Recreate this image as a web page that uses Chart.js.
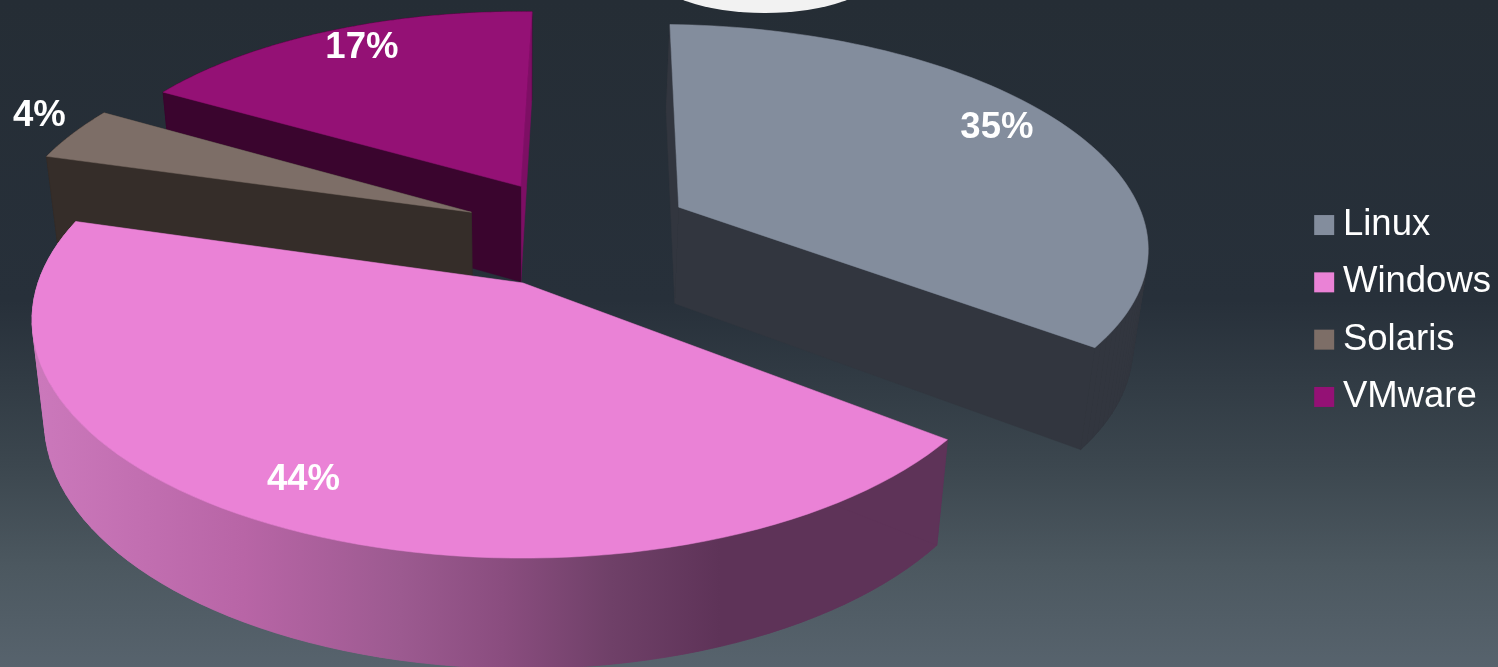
<!DOCTYPE html>
<html>
<head>
<meta charset="utf-8">
<script src="https://cdn.jsdelivr.net/npm/chart.js@4"></script>
<style>
  html, body { margin: 0; padding: 0; width: 1498px; height: 667px; overflow: hidden; }
  body { position: relative; background: linear-gradient(#252d35 0%, #27303a 45%, #3c474f 70%, #4c5860 85%, #57636d 100%); }
  #lamp { position: absolute; left: 654px; top: -67px; width: 222px; height: 80px; border-radius: 50%; background: #f2f2f2; }
  #chart { position: absolute; left: 0; top: 0; }
</style>
</head>
<body>
<div id="lamp"></div>
<canvas id="chart" width="1498" height="667"></canvas>
<script>
const categories = ['Linux', 'Windows', 'Solaris', 'VMware'];
const shares = [35, 44, 4, 17];
const faceColors = ['#838d9d', '#ea82d6', '#7d6e67', '#941175'];
const wallColors = ['#32363f', '#5e3358', '#352d29', '#3a052e'];
const endWallColors = ['#32363f', '#5e3358', '#352d29', '#7d0f64'];
const labelRadius = [0.85, 0.848, 1.124, 0.85];
const labelTurn = [-2.5, 1.36, 2.73, 1.75];
const nudgeU = [-0.014, 0, 0.01, 0.004];
const nudgeV = [0, 0, 0.015, 0.015];
const rimScale = [1, 1, 1, 0.98];

// tilted disc, origin is the tip of the front slice
const view = { x: 523, y: 283, rx: 485, ry: 232.5, persp: 0.155, explode: 0.26 };
const drawOrder = [3, 2, 0, 1];

function project(u, v) {
  const w = 1 - view.persp * v;
  return { x: view.x + view.rx * u / w, y: view.y + view.ry * v / w };
}

// same point on the bottom of the disc
function lower(p) {
  return { x: view.x + (p.x - view.x) * 0.975, y: p.y + 88 + p.y * 0.04 };
}

function fillPoly(ctx, pts, style) {
  ctx.beginPath();
  pts.forEach((p, i) => i ? ctx.lineTo(p.x, p.y) : ctx.moveTo(p.x, p.y));
  ctx.closePath();
  ctx.fillStyle = style;
  ctx.strokeStyle = style;
  ctx.lineWidth = 0.5;
  ctx.fill();
  ctx.stroke();
}

const pie3d = {
  id: 'pie3d',
  beforeDatasetsDraw(chart) {
    const ctx = chart.ctx;
    const arcs = chart.getDatasetMeta(0).data;
    const front = (arcs[1].startAngle + arcs[1].endAngle) / 2;
    const ou = view.explode * Math.cos(front);
    const ov = view.explode * Math.sin(front);

    const sideFill = ctx.createLinearGradient(40, 0, 720, 0);
    sideFill.addColorStop(0, '#cb78bb');
    sideFill.addColorStop(0.3, '#b865a6');
    sideFill.addColorStop(0.53, '#9c5a90');
    sideFill.addColorStop(0.68, '#8a4d7f');
    sideFill.addColorStop(0.84, '#6f4068');
    sideFill.addColorStop(1, '#5e3358');

    const shapes = arcs.map((arc, n) => {
      const mid = (arc.startAngle + arc.endAngle) / 2;
      const cu = view.explode * Math.cos(mid) - ou + nudgeU[n];
      const cv = view.explode * Math.sin(mid) - ov + nudgeV[n];
      const rim = [];
      const steps = 80;
      for (let i = 0; i <= steps; i++) {
        const a = arc.startAngle + (arc.endAngle - arc.startAngle) * i / steps;
        rim.push(project(cu + rimScale[n] * Math.cos(a), cv + rimScale[n] * Math.sin(a)));
      }
      return { tip: project(cu, cv), rim, cu, cv, mid };
    });

    drawOrder.forEach((i) => {
      const s = shapes[i];
      const first = s.rim[0];
      const last = s.rim[s.rim.length - 1];
      const outer = i === 1 ? sideFill : wallColors[i];
      // the base hides the seams, the quads sweep out the silhouette
      fillPoly(ctx, s.rim.concat(s.rim.map(lower).reverse()), outer);
      for (let k = 0; k < s.rim.length - 1; k++) {
        fillPoly(ctx, [s.rim[k], s.rim[k + 1], lower(s.rim[k + 1]), lower(s.rim[k])], outer);
      }
      fillPoly(ctx, [s.tip, last, lower(last), lower(s.tip)], endWallColors[i]);
      fillPoly(ctx, [s.tip, first, lower(first), lower(s.tip)], wallColors[i]);
      fillPoly(ctx, [s.tip].concat(s.rim), faceColors[i]);
    });

    ctx.font = 'bold 36.5px "Liberation Sans"';
    ctx.fillStyle = '#ffffff';
    ctx.textAlign = 'center';
    ctx.textBaseline = 'middle';
    shapes.forEach((s, i) => {
      const a = s.mid + labelTurn[i] * Math.PI / 180;
      const p = project(s.cu + labelRadius[i] * Math.cos(a), s.cv + labelRadius[i] * Math.sin(a));
      ctx.fillText(shares[i] + '%', p.x, p.y);
    });
    return false;
  }
};

new Chart(document.getElementById('chart'), {
  type: 'pie',
  data: {
    labels: categories,
    datasets: [{ data: shares, backgroundColor: faceColors, borderWidth: 0 }]
  },
  options: {
    responsive: false,
    animation: false,
    rotation: 1.6,
    layout: { padding: { right: -3, bottom: 45 } },
    plugins: {
      tooltip: { enabled: false },
      legend: {
        position: 'right',
        labels: {
          color: '#ffffff',
          font: { family: '"Liberation Sans"', size: 36.5, lineHeight: 1.2 },
          usePointStyle: true,
          pointStyle: 'rect',
          boxWidth: 1,
          boxHeight: 20,
          padding: 20.8
        }
      }
    }
  },
  plugins: [pie3d]
});
</script>
</body>
</html>
